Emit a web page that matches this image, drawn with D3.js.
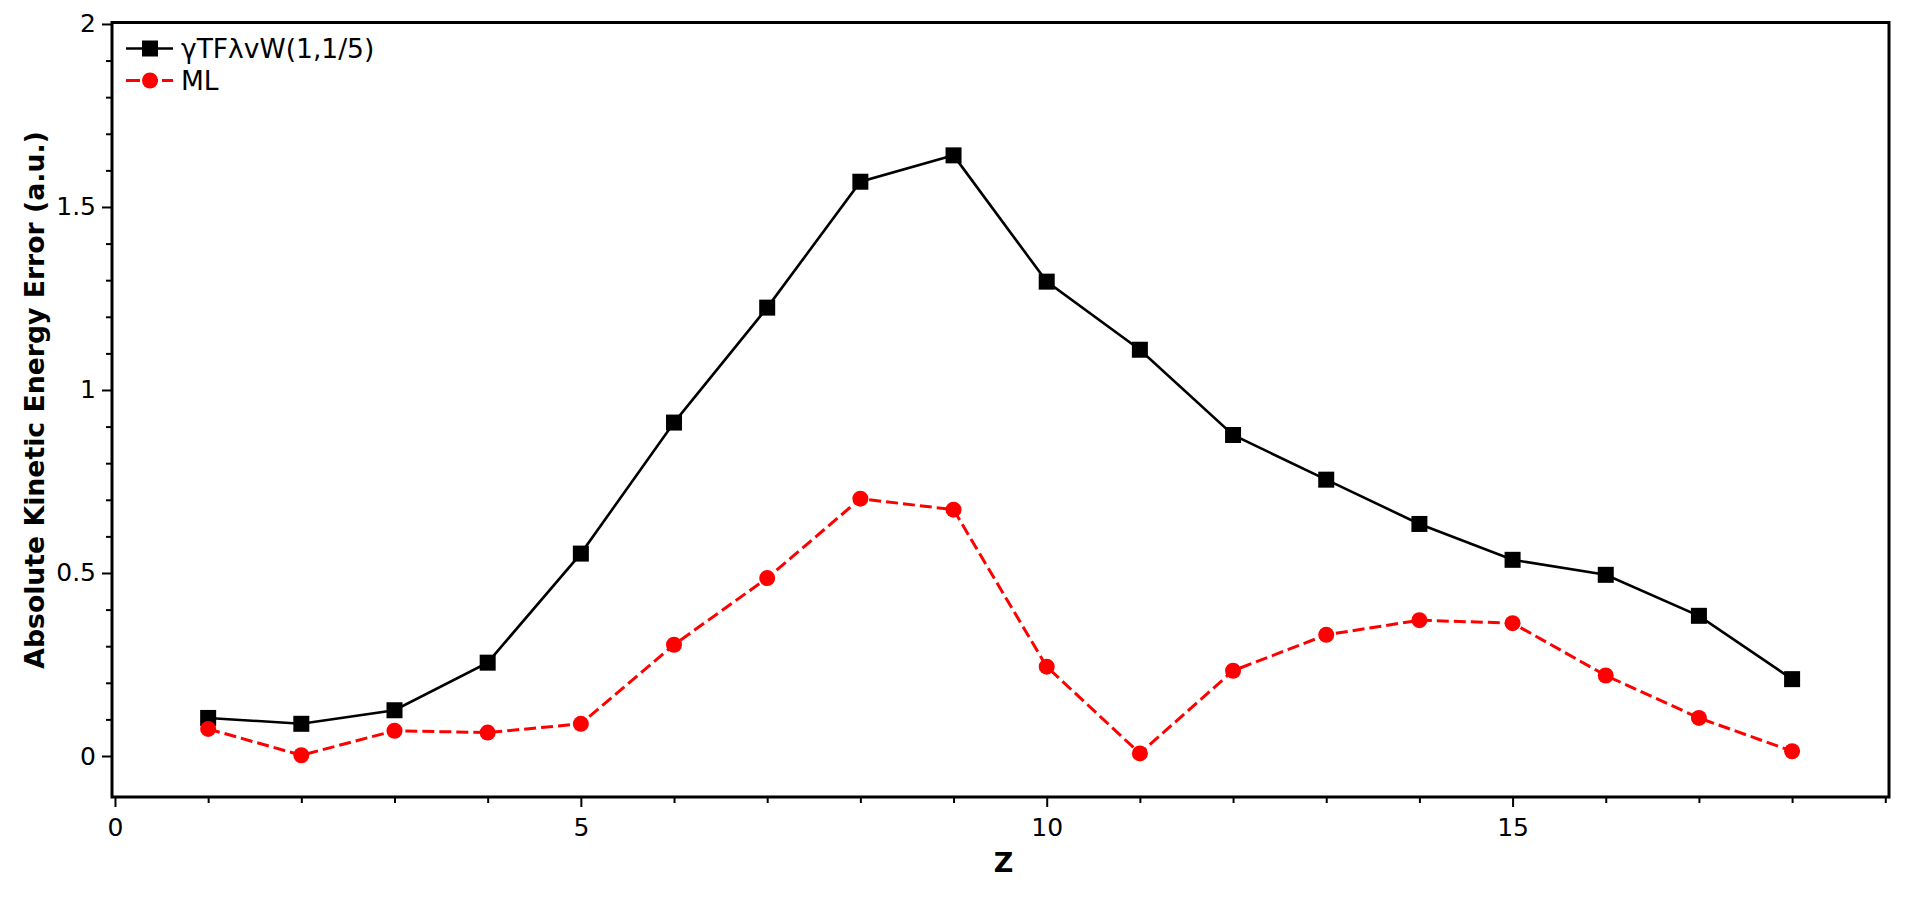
<!DOCTYPE html>
<html>
<head>
<meta charset="utf-8">
<script src="https://cdn.jsdelivr.net/npm/d3@7"></script>
<style>
  html, body { margin: 0; padding: 0; background: #fff; }
  svg { display: block; }
  text { font-family: "DejaVu Sans", sans-serif; }
</style>
</head>
<body>
<svg id="chart" width="1920" height="901"></svg>
<script>
// ---- data ----
const zValues = [1, 2, 3, 4, 5, 6, 7, 8, 9, 10, 11, 12, 13, 14, 15, 16, 17, 18];
const gammaTFValues = [0.104, 0.088, 0.125, 0.255, 0.553, 0.911, 1.225, 1.569, 1.641, 1.296, 1.110, 0.877, 0.755, 0.634, 0.536, 0.495, 0.383, 0.210];
const mlValues = [0.074, 0.002, 0.069, 0.064, 0.088, 0.304, 0.486, 0.703, 0.673, 0.244, 0.007, 0.233, 0.331, 0.371, 0.363, 0.220, 0.104, 0.013];
const seriesNames = ["γTFλvW(1,1/5)", "ML"];
const xMajorTicks = [0, 5, 10, 15];
const xMinorTicks = [1, 2, 3, 4, 6, 7, 8, 9, 11, 12, 13, 14, 16, 17, 18, 19];
const yMajorTicks = [0, 0.5, 1, 1.5, 2];
const yTickLabels = ["0", "0.5", "1", "1.5", "2"];
const yMinorTicks = [0.1, 0.2, 0.3, 0.4, 0.6, 0.7, 0.8, 0.9, 1.1, 1.2, 1.3, 1.4, 1.6, 1.7, 1.8, 1.9];
const xTitle = "Z";
const yTitle = "Absolute Kinetic Energy Error (a.u.)";

// ---- layout ----
const plotLeft = 112, plotRight = 1889, plotTop = 22.5, plotBottom = 797;
const svg = d3.select("#chart");

const x = d3.scaleLinear().domain([-0.032, 19.04]).range([plotLeft, plotRight]);
const y = d3.scaleLinear().domain([-0.112, 2.004]).range([plotBottom, plotTop]);

const xMinorAxis = d3.axisBottom(x).tickValues(xMinorTicks).tickSize(6).tickSizeOuter(0).tickFormat("");
const xMajorAxis = d3.axisBottom(x).tickValues(xMajorTicks).tickSize(10).tickSizeOuter(0)
  .tickPadding(11).tickFormat(d3.format("d"));
const yMinorAxis = d3.axisLeft(y).tickValues(yMinorTicks).tickSize(6).tickSizeOuter(0).tickFormat("");
const yMajorAxis = d3.axisLeft(y).tickValues(yMajorTicks).tickSize(10).tickSizeOuter(0)
  .tickPadding(6).tickFormat((d, i) => yTickLabels[i]);

function styleAxis(g) {
  g.select(".domain").remove();
  g.selectAll(".tick line").attr("stroke", "#000").attr("stroke-width", 2);
  g.selectAll(".tick text").attr("fill", "#000").style("font-size", "25px")
    .style("font-family", "'DejaVu Sans', sans-serif");
}

svg.append("g").attr("transform", `translate(0,${plotBottom})`).call(xMinorAxis).call(styleAxis);
svg.append("g").attr("transform", `translate(0,${plotBottom})`).call(xMajorAxis).call(styleAxis);
svg.append("g").attr("transform", `translate(${plotLeft},0)`).call(yMinorAxis).call(styleAxis);
svg.append("g").attr("transform", `translate(${plotLeft},0)`).call(yMajorAxis).call(styleAxis);

// frame
svg.append("rect")
  .attr("x", plotLeft).attr("y", plotTop)
  .attr("width", plotRight - plotLeft).attr("height", plotBottom - plotTop)
  .attr("fill", "none").attr("stroke", "#000").attr("stroke-width", 3);

// axis titles
svg.append("text")
  .attr("x", (plotLeft + plotRight) / 2 + 3).attr("y", 872)
  .attr("text-anchor", "middle")
  .style("font-size", "27px").style("font-weight", "bold")
  .text(xTitle);

svg.append("text")
  .attr("transform", `translate(44,400) rotate(-90)`)
  .attr("text-anchor", "middle")
  .style("font-size", "26.7px").style("font-weight", "bold")
  .text(yTitle);

// lines
const line = d3.line().x(d => x(d[0])).y(d => y(d[1]));
const gammaData = zValues.map((z, i) => [z, gammaTFValues[i]]);
const mlData = zValues.map((z, i) => [z, mlValues[i]]);

svg.append("path").datum(gammaData).attr("d", line)
  .attr("fill", "none").attr("stroke", "#000").attr("stroke-width", 2.6);
svg.selectAll("rect.sq").data(gammaData).enter().append("rect")
  .attr("class", "sq")
  .attr("x", d => x(d[0]) - 8).attr("y", d => y(d[1]) - 8)
  .attr("width", 16).attr("height", 16).attr("fill", "#000");

svg.append("path").datum(mlData).attr("d", line)
  .attr("fill", "none").attr("stroke", "#ff0000").attr("stroke-width", 3)
  .attr("stroke-dasharray", "12,5");
svg.selectAll("circle.ml").data(mlData).enter().append("circle")
  .attr("class", "ml")
  .attr("cx", d => x(d[0])).attr("cy", d => y(d[1]))
  .attr("r", 8).attr("fill", "#ff0000");

// legend
const lg = svg.append("g");
const rows = [48.5, 80.5];
lg.append("line").attr("x1", 126).attr("x2", 173).attr("y1", rows[0]).attr("y2", rows[0])
  .attr("stroke", "#000").attr("stroke-width", 2.6);
lg.append("rect").attr("x", 150 - 8).attr("y", rows[0] - 8).attr("width", 16).attr("height", 16).attr("fill", "#000");
lg.append("line").attr("x1", 126).attr("x2", 173).attr("y1", rows[1]).attr("y2", rows[1])
  .attr("stroke", "#ff0000").attr("stroke-width", 3).attr("stroke-dasharray", "14,4");
lg.append("circle").attr("cx", 150).attr("cy", rows[1]).attr("r", 8).attr("fill", "#ff0000");
lg.selectAll("text.lt").data(seriesNames).enter().append("text")
  .attr("class", "lt")
  .attr("x", 181).attr("y", (d, i) => rows[i] + 9)
  .style("font-size", "26.5px")
  .text(d => d);
</script>
</body>
</html>
